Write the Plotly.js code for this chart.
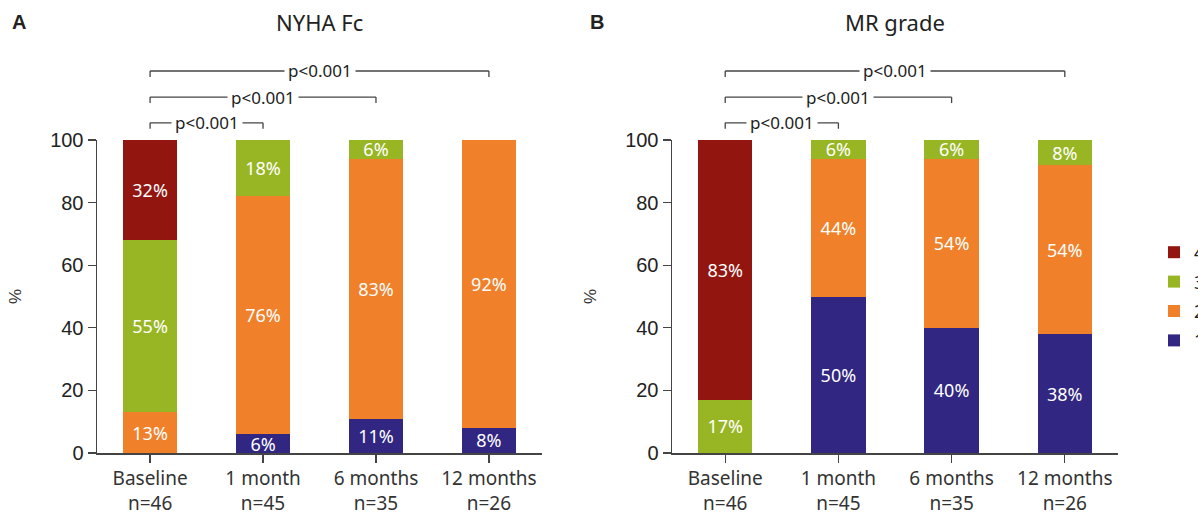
<!DOCTYPE html>
<html>
<head>
<meta charset="utf-8">
<script src="https://cdn.plot.ly/plotly-3.0.1.min.js"></script>
<style>html,body{margin:0;padding:0;background:#fff;}#chart{width:1198px;height:515px;}</style>
</head>
<body>
<div id="chart"></div>
<script>
// Categories (time points) and tick labels
var categories = ["Baseline", "1 month", "6 months", "12 months"];
var tickLabels = ["Baseline<br>n=46", "1 month<br>n=45", "6 months<br>n=35", "12 months<br>n=26"];
var classNames = ["1", "2", "3", "4"];

// Panel A: NYHA Fc (% of patients per class)
var nyha1 = [null, 6, 11, 8];
var nyha2 = [13, 76, 83, 92];
var nyha3 = [55, 18, 6, null];
var nyha4 = [32, null, null, null];

// Panel B: MR grade (% of patients per grade)
var mr1 = [null, 50, 40, 38];
var mr2 = [null, 44, 54, 54];
var mr3 = [17, 6, 6, 8];
var mr4 = [83, null, null, null];

// Significance brackets: [from category index, to category index, label]
var brackets = [[0, 3, "p<0.001"], [0, 2, "p<0.001"], [0, 1, "p<0.001"]];
var bracketLevels = [1.2205, 1.137, 1.055];

var colors = ["#312682", "#F08029", "#98B624", "#921510"];
var txtFont = "Noto Sans, sans-serif";

function pct(arr) { return arr.map(function (v) { return v ? v + "%" : ""; }); }

var traces = [];
var panelA = [nyha1, nyha2, nyha3, nyha4];
var panelB = [mr1, mr2, mr3, mr4];
[panelA, panelB].forEach(function (panel, p) {
  panel.forEach(function (vals, i) {
    traces.push({
      type: "bar",
      x: categories,
      y: vals,
      name: classNames[i],
      legendgroup: "g" + classNames[i],
      legendrank: 10 - i,
      showlegend: p === 0,
      xaxis: p === 0 ? "x" : "x2",
      yaxis: p === 0 ? "y" : "y2",
      width: 0.48,
      marker: { color: colors[i], line: { width: 0 } },
      text: pct(vals),
      textposition: "inside",
      insidetextanchor: "middle",
      textangle: 0,
      constraintext: "none",
      textfont: { family: txtFont, size: 18, color: "#ffffff" },
      hoverinfo: "x+y+name"
    });
  });
});

var shapes = [];
var annotations = [];
["x", "x2"].forEach(function (xr) {
  brackets.forEach(function (b, k) {
    var yl = bracketLevels[k];
    var drop = 0.019;
    shapes.push({ type: "line", xref: xr, yref: "paper", x0: b[0], x1: b[1], y0: yl, y1: yl, line: { color: "#444", width: 1.3 } });
    shapes.push({ type: "line", xref: xr, yref: "paper", x0: b[0], x1: b[0], y0: yl, y1: yl - drop, line: { color: "#444", width: 1.3 } });
    shapes.push({ type: "line", xref: xr, yref: "paper", x0: b[1], x1: b[1], y0: yl, y1: yl - drop, line: { color: "#444", width: 1.3 } });
    annotations.push({
      xref: xr, yref: "paper", x: (b[0] + b[1]) / 2, y: yl, text: b[2], showarrow: false,
      xanchor: "center", yanchor: "middle", bgcolor: "#ffffff", borderpad: 3,
      font: { family: txtFont, size: 17, color: "#222" }
    });
  });
});

var headY = 1.377;
annotations.push({ xref: "paper", yref: "paper", x: 319.5 / 1198, y: headY, text: "NYHA Fc", showarrow: false, xanchor: "center", yanchor: "middle", font: { family: txtFont, size: 22, color: "#222" } });
annotations.push({ xref: "paper", yref: "paper", x: 895 / 1198, y: headY, text: "MR grade", showarrow: false, xanchor: "center", yanchor: "middle", font: { family: txtFont, size: 22, color: "#222" } });
annotations.push({ xref: "paper", yref: "paper", x: 10 / 1198, y: headY, text: "<b>A</b>", showarrow: false, xanchor: "left", yanchor: "middle", font: { family: "Liberation Sans, Arial, sans-serif", size: 20, color: "#222" } });
annotations.push({ xref: "paper", yref: "paper", x: 588 / 1198, y: headY, text: "<b>B</b>", showarrow: false, xanchor: "left", yanchor: "middle", font: { family: "Liberation Sans, Arial, sans-serif", size: 20, color: "#222" } });

function xax(domain, anchor) {
  return {
    domain: domain, anchor: anchor, type: "category", range: [-0.47, 3.47],
    tickmode: "array", tickvals: categories, ticktext: tickLabels,
    ticks: "outside", ticklen: 8, tickwidth: 1.3, tickcolor: "#444",
    showline: true, linecolor: "#444", linewidth: 1.5,
    showgrid: false, zeroline: false, fixedrange: true,
    tickfont: { family: txtFont, size: 19, color: "#333" }
  };
}
function yax(anchor) {
  return {
    anchor: anchor, range: [0, 100], tickmode: "array", tickvals: [0, 20, 40, 60, 80, 100],
    ticks: "outside", ticklen: 8, tickwidth: 1.3, tickcolor: "#444",
    showline: true, linecolor: "#444", linewidth: 1.5,
    showgrid: false, zeroline: false, fixedrange: true,
    tickfont: { family: "Liberation Sans, Arial, sans-serif", size: 20, color: "#222" },
    title: { text: "%", standoff: 24, font: { family: "Liberation Sans, Arial, sans-serif", size: 17, color: "#333" } }
  };
}

var layout = {
  width: 1198, height: 515,
  margin: { l: 0, r: 0, t: 140, b: 62, autoexpand: false },
  paper_bgcolor: "#ffffff", plot_bgcolor: "#ffffff",
  barmode: "stack",
  xaxis: xax([97 / 1198, 542 / 1198], "y"),
  yaxis: yax("x"),
  xaxis2: xax([672 / 1198, 1118 / 1198], "y2"),
  yaxis2: yax("x2"),
  showlegend: true,
  legend: {
    x: 1154 / 1198, xanchor: "left", y: 0.5, yanchor: "middle",
    traceorder: "grouped", tracegroupgap: 3,
    font: { family: txtFont, size: 18, color: "#222" },
    bgcolor: "rgba(0,0,0,0)", borderwidth: 0
  },
  shapes: shapes,
  annotations: annotations
};

Plotly.newPlot("chart", traces, layout, { displayModeBar: false, staticPlot: true });
</script>
</body>
</html>
